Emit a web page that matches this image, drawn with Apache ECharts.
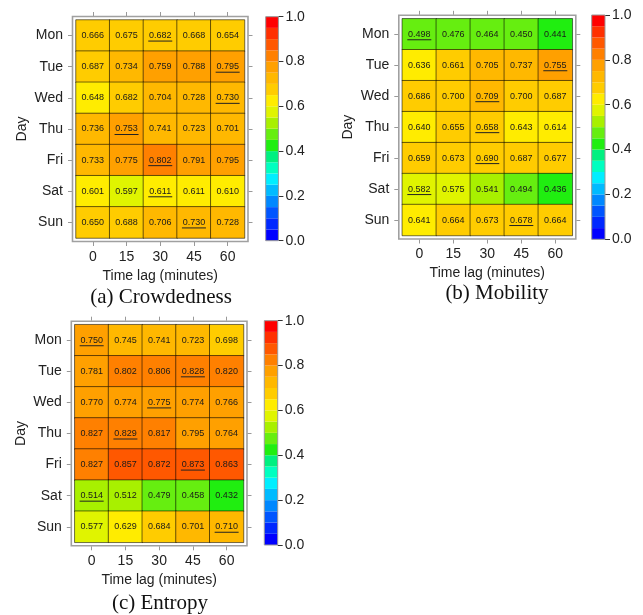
<!DOCTYPE html>
<html><head><meta charset="utf-8">
<script src="https://cdn.jsdelivr.net/npm/echarts@6/dist/echarts.min.js"></script>
<style>html,body{margin:0;padding:0;background:#fff}#c{width:643px;height:615px}</style>
</head><body><div id="c"></div><script>
const timeLags = ['0', '15', '30', '45', '60'];
const days = ['Mon', 'Tue', 'Wed', 'Thu', 'Fri', 'Sat', 'Sun'];
const crowdedness = [
  [0.666, 0.675, 0.682, 0.668, 0.654],
  [0.687, 0.734, 0.759, 0.788, 0.795],
  [0.648, 0.682, 0.704, 0.728, 0.730],
  [0.736, 0.753, 0.741, 0.723, 0.701],
  [0.733, 0.775, 0.802, 0.791, 0.795],
  [0.601, 0.597, 0.611, 0.611, 0.610],
  [0.650, 0.688, 0.706, 0.730, 0.728]
];
const mobility = [
  [0.498, 0.476, 0.464, 0.450, 0.441],
  [0.636, 0.661, 0.705, 0.737, 0.755],
  [0.686, 0.700, 0.709, 0.700, 0.687],
  [0.640, 0.655, 0.658, 0.643, 0.614],
  [0.659, 0.673, 0.690, 0.687, 0.677],
  [0.582, 0.575, 0.541, 0.494, 0.436],
  [0.641, 0.664, 0.673, 0.678, 0.664]
];
const entropy = [
  [0.750, 0.745, 0.741, 0.723, 0.698],
  [0.781, 0.802, 0.806, 0.828, 0.820],
  [0.770, 0.774, 0.775, 0.774, 0.766],
  [0.827, 0.829, 0.817, 0.795, 0.764],
  [0.827, 0.857, 0.872, 0.873, 0.863],
  [0.514, 0.512, 0.479, 0.458, 0.432],
  [0.577, 0.629, 0.684, 0.701, 0.710]
];
const captions = ['(a) Crowdedness', '(b) Mobility', '(c) Entropy'];
const levelStep = 0.05;
const levelColors = [
  '#0000FF', '#0028FF', '#0055FF', '#0088FF', '#00BBFF',
  '#00EEFF', '#00FFC0', '#00F080', '#20EE10', '#66EE10',
  '#A8F000', '#E0F400', '#FFEC00', '#FFCC00', '#FFB800',
  '#FFA000', '#FF8000', '#FF5800', '#FF3000', '#FF0000'
];

const datasets = [crowdedness, mobility, entropy];
const layouts = [
  { cells: { left: 76, top: 20, width: 168.5, height: 218 }, bar: { left: 265.7, top: 16.7, width: 12.7, height: 224 }, cap: [161, 297] },
  { cells: { left: 402.3, top: 18.8, width: 170, height: 216.7 }, bar: { left: 591.7, top: 15, width: 13.3, height: 224.3 }, cap: [497, 293] },
  { cells: { left: 74.8, top: 324.7, width: 168.7, height: 217.6 }, bar: { left: 264.3, top: 320.7, width: 13.4, height: 224.3 }, cap: [160, 603] }
];
const FONT = 'Liberation Sans';
const txt = '#222';
const tickGray = '#999';

const grid = [], xAxis = [], yAxis = [], series = [], graphic = [];
const heatIdx = [];
const levels = levelColors.map((c, i) => [0, i * levelStep, (i + 1) * levelStep, i]);
const pieces = levelColors.map((c, i) => i === levelColors.length - 1
  ? { gte: i * levelStep, lte: 1, color: c }
  : { gte: i * levelStep, lt: (i + 1) * levelStep, color: c });

layouts.forEach((L, p) => {
  const data = datasets[p];
  const gCell = grid.length;
  grid.push(Object.assign({ containLabel: false }, L.cells));
  const gBar = grid.length;
  grid.push(Object.assign({ containLabel: false }, L.bar));

  const xb = xAxis.length;
  xAxis.push({
    type: 'category', gridIndex: gCell, data: timeLags, position: 'bottom', offset: 4,
    axisLine: { show: false }, axisTick: { show: true, length: 4, alignWithLabel: true, lineStyle: { color: tickGray } },
    axisLabel: { fontSize: 14, color: txt, fontFamily: FONT, margin: 8 },
    name: 'Time lag (minutes)', nameLocation: 'middle', nameGap: 27,
    nameTextStyle: { fontSize: 14, color: txt, fontFamily: FONT }
  });
  xAxis.push({
    type: 'category', gridIndex: gCell, data: timeLags, position: 'top', offset: 4,
    axisLine: { show: false }, axisTick: { show: true, length: 4, alignWithLabel: true, lineStyle: { color: tickGray } },
    axisLabel: { show: false }
  });
  const xBarIdx = xAxis.length;
  xAxis.push({ type: 'category', gridIndex: gBar, data: [''], show: false });

  const yl = yAxis.length;
  yAxis.push({
    type: 'category', gridIndex: gCell, data: days, inverse: true, position: 'left', offset: 4,
    axisLine: { show: false }, axisTick: { show: true, length: 4, alignWithLabel: true, lineStyle: { color: tickGray } },
    axisLabel: { fontSize: 14, color: txt, fontFamily: FONT, margin: 9 },
    name: 'Day', nameLocation: 'middle', nameGap: 43,
    nameTextStyle: { fontSize: 14, color: txt, fontFamily: FONT }
  });
  yAxis.push({
    type: 'category', gridIndex: gCell, data: days, inverse: true, position: 'right', offset: 4,
    axisLine: { show: false }, axisTick: { show: true, length: 4, alignWithLabel: true, lineStyle: { color: tickGray } },
    axisLabel: { show: false }
  });
  const yBarIdx = yAxis.length;
  yAxis.push({
    type: 'value', gridIndex: gBar, min: 0, max: 1, interval: 0.2, position: 'right',
    axisLine: { show: false }, splitLine: { show: false },
    axisTick: { show: true, length: 5, lineStyle: { color: '#333' } },
    axisLabel: { fontSize: 14, color: txt, fontFamily: FONT, margin: 7, formatter: v => v.toFixed(1) }
  });

  const cells = [];
  const marks = [];
  data.forEach((row, r) => {
    let best = 0;
    row.forEach((v, c) => { cells.push([c, r, v]); if (v > row[best]) best = c; });
    marks.push([best, r]);
  });

  heatIdx.push(series.length);
  series.push({
    type: 'heatmap', xAxisIndex: xb, yAxisIndex: yl, data: cells,
    itemStyle: { borderColor: 'rgba(0,0,0,0.55)', borderWidth: 1 },
    label: { show: true, fontSize: 9, color: '#1a1a1a', fontFamily: FONT, formatter: q => q.value[2].toFixed(3) },
    emphasis: { disabled: true }, silent: true
  });
  series.push({
    type: 'custom', xAxisIndex: xb, yAxisIndex: yl, data: marks, silent: true, z: 5,
    renderItem: (params, api) => {
      const pt = api.coord([api.value(0), api.value(1)]);
      return { type: 'line', shape: { x1: pt[0] - 12, y1: pt[1] + 5.5, x2: pt[0] + 12, y2: pt[1] + 5.5 }, style: { stroke: '#222', lineWidth: 1 } };
    }
  });
  series.push({
    type: 'custom', xAxisIndex: xBarIdx, yAxisIndex: yBarIdx, data: levels, silent: true,
    renderItem: (params, api) => {
      const top = api.coord([0, api.value(2)]);
      const bot = api.coord([0, api.value(1)]);
      const w = api.size([1, 0])[0];
      return { type: 'rect', shape: { x: top[0] - w / 2, y: top[1], width: w, height: bot[1] - top[1] }, style: { fill: levelColors[api.value(3)] } };
    }
  });

  const g = 3.5;
  graphic.push({
    type: 'rect', silent: true, z: 10,
    shape: { x: L.cells.left - g, y: L.cells.top - g, width: L.cells.width + 2 * g, height: L.cells.height + 2 * g },
    style: { fill: 'none', stroke: '#a0a0a0', lineWidth: 1.6 }
  });
  graphic.push({
    type: 'rect', silent: true, z: 10,
    shape: { x: L.bar.left, y: L.bar.top, width: L.bar.width, height: L.bar.height },
    style: { fill: 'none', stroke: '#999', lineWidth: 1 }
  });
  graphic.push({
    type: 'text', silent: true, x: L.cap[0], y: L.cap[1],
    style: { text: captions[p], font: '21px "Liberation Serif"', fill: '#111', textAlign: 'center', textVerticalAlign: 'middle' }
  });
});

const chart = echarts.init(document.getElementById('c'), null, { renderer: 'canvas' });
chart.setOption({
  animation: false,
  backgroundColor: '#fff',
  grid, xAxis, yAxis, series, graphic,
  visualMap: { type: 'piecewise', show: false, dimension: 2, seriesIndex: heatIdx, pieces }
});
</script></body></html>
